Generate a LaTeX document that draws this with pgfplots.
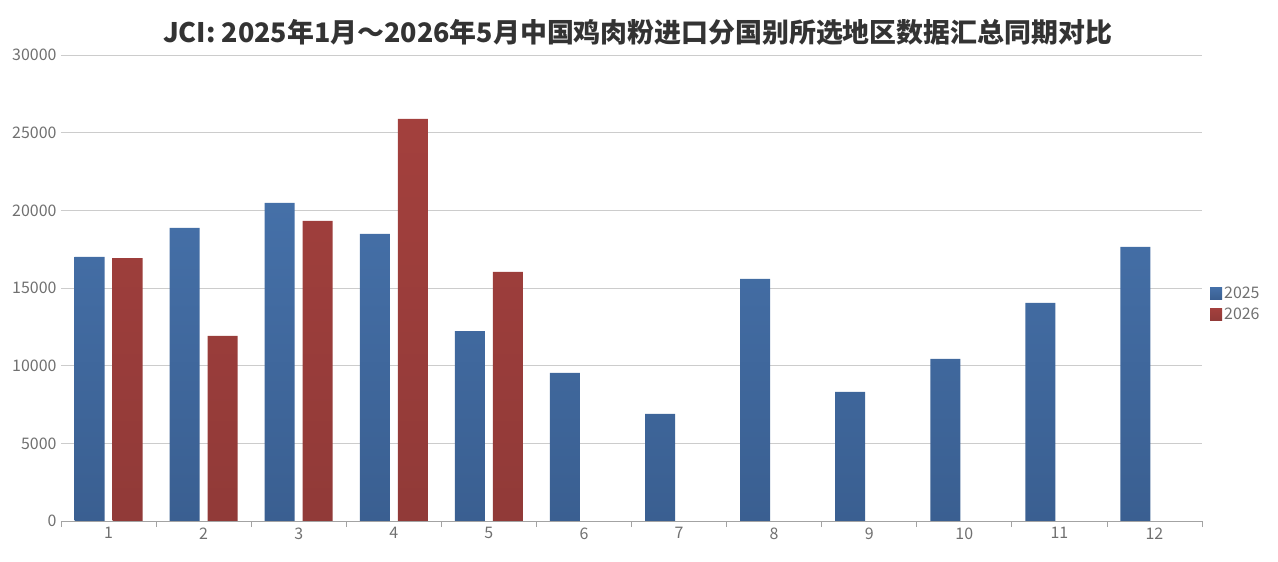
\documentclass[border=0pt]{standalone}
\usepackage{fontspec}
\setmainfont{Noto Sans CJK SC}
\usepackage{pgfplots}
\pgfplotsset{compat=1.18}

\definecolor{blueA}{HTML}{4570A8}
\definecolor{blueB}{HTML}{3A5F91}
\definecolor{redA}{HTML}{A3403D}
\definecolor{redB}{HTML}{913A38}
\definecolor{gridc}{HTML}{CCCCCC}
\definecolor{tickc}{HTML}{707070}
\definecolor{titlec}{HTML}{333333}

\begin{document}
\begin{tikzpicture}
\path[use as bounding box] (-61bp,-41bp) rectangle (1217bp,521bp);
\begin{axis}[
    at={(0,0)}, anchor=south west,
    scale only axis,
    width=1141bp, height=466bp,
    ybar,
    bar width=30bp,
    xmin=0.5, xmax=12.5,
    ymin=0, ymax=30000,
    xtick={1,...,12},
    minor xtick={0.5,1.5,...,12.5},
    ytick={0,5000,...,30000},
    axis x line*=bottom,
    axis y line*=left,
    x axis line style={draw=gridc!80!black, line width=0.8pt, -},
    y axis line style={draw=none},
    ymajorgrids,
    grid style={draw=gridc, line width=0.8pt},
    major tick length=0pt,
    minor tick length=6bp,
    tick align=outside,
    minor tick style={draw=gridc!80!black, line width=0.8pt},
    /pgf/number format/assume math mode=true,
    scaled y ticks=false,
    yticklabel style={/pgf/number format/1000 sep={}},
    tick label style={font=\fontsize{16}{16}\selectfont, text=tickc},
    yticklabel style={xshift=-1bp},
    xticklabel style={yshift=-3bp},
    legend style={at={(rel axis cs:1,0.466)}, anchor=west, xshift=5bp,
        draw=none, fill=none, font=\fontsize{16}{16}\selectfont, text=tickc,
        row sep=4bp},
    legend cell align=left,
    area legend,
    legend image code/.code={\fill[#1] (0bp,-6bp) rectangle (12bp,6bp);},
    title={JCI: 2025年1月～2026年5月中国鸡肉粉进口分国别所选地区数据汇总同期对比},
    title style={font=\fontsize{27}{27}\selectfont\bfseries, text=titlec, xshift=6bp},
]
\addplot[draw=none, bar shift=-19bp, top color=blueA, bottom color=blueB] coordinates {
    (1,17000) (2,18870) (3,20480) (4,18480) (5,12230) (6,9530)
    (7,6890) (8,15580) (9,8310) (10,10430) (11,14040) (12,17640)
};
\addlegendentry{2025}
\addplot[draw=none, bar shift=19bp, top color=redA, bottom color=redB] coordinates {
    (1,16930) (2,11910) (3,19320) (4,25890) (5,16030)
};
\addlegendentry{2026}
\end{axis}
\end{tikzpicture}
\end{document}
